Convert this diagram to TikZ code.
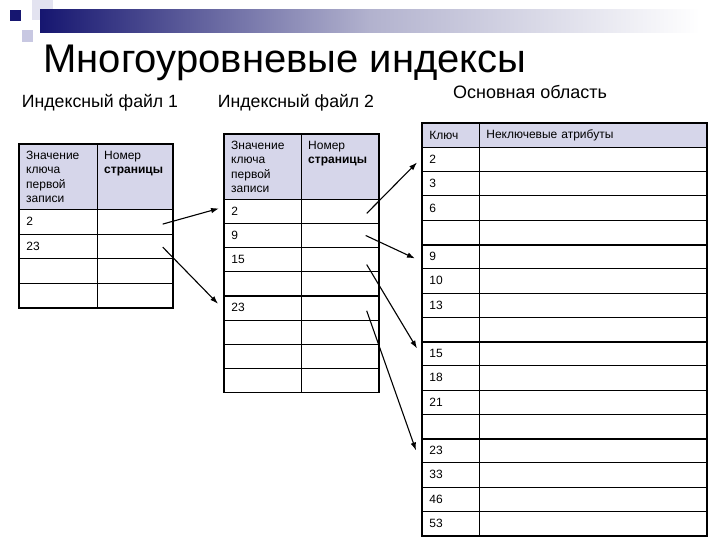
\documentclass[tikz,border=0pt]{standalone}
\usepackage{fontspec}
\setmainfont{Liberation Sans}
\usepackage{tikz}
\usetikzlibrary{arrows.meta}
\definecolor{headfill}{RGB}{214,214,234}
\definecolor{barblue}{RGB}{22,22,112}
\definecolor{barmid}{RGB}{178,178,206}
\definecolor{sqlight}{RGB}{200,200,226}

\begin{document}
\begin{tikzpicture}[x=1pt,y=-1pt,
  cell/.style={draw,line width=0.7pt,anchor=north west,inner xsep=7pt,inner ysep=0pt,font=\fontsize{12}{14.3}\selectfont,align=left},
  head/.style={cell,fill=headfill},
  htext/.style={anchor=north west,inner xsep=7pt,inner ysep=7pt,font=\fontsize{12}{14.3}\selectfont,align=left},
  frame/.style={line width=1.6pt},
  ptr/.style={-{Latex[length=8pt,width=5.5pt]},line width=1.1pt}]
\useasboundingbox (0,0) rectangle (720,540);
% slide decoration
\fill[sqlight!50] (32,0) rectangle (53,20);
\shade[left color=barblue,right color=white,middle color=barmid] (40,10) rectangle (700,33);
\fill[sqlight] (22,30) rectangle (33,42);
\fill[barblue] (10,10) rectangle (21,21);
% titles
\node[font=\fontsize{40}{44}\selectfont,anchor=base] (title) at (285,73) {Многоуровневые индексы};
\node[font=\fontsize{17.7}{20}\selectfont] (f1) at (100,103) {Индексный файл 1};
\node[font=\fontsize{17.7}{20}\selectfont] (f2) at (296,103) {Индексный файл 2};
\node[font=\fontsize{18}{20}\selectfont] (area) at (530,92) {Основная область};
% index file 1
\node[head,text width=64pt,minimum height=65pt] (h1a) at (19,144) {};
\node[head,text width=61pt,minimum height=65pt] (h1b) at (97,144) {};
\node[htext,text width=64pt] (t1a) at (h1a.north west) {Значение\\ключа\\первой\\записи};
\node[htext,text width=61pt] (t1b) at (h1b.north west) {Номер\\\textbf{страницы}};
\foreach \i/\k in {1/2,2/23,3/{},4/{}} {
  \node[cell,text width=64pt,minimum height=24.5pt] (a\i) at (19,{209+24.5*(\i-1)}) {\k};
  \node[cell,text width=61pt,minimum height=24.5pt] (p\i) at (97,{209+24.5*(\i-1)}) {};
}
\draw[frame] (h1a.north west) rectangle (p4.south east);
\draw[frame] (h1a.south west) -- (h1b.south east);
% index file 2
\node[head,text width=63pt,minimum height=65pt] (h2a) at (224,134) {};
\node[head,text width=63pt,minimum height=65pt] (h2b) at (301,134) {};
\node[htext,text width=63pt] (t2a) at (h2a.north west) {Значение\\ключа\\первой\\записи};
\node[htext,text width=63pt] (t2b) at (h2b.north west) {Номер\\\textbf{страницы}};
\foreach \i/\k in {1/2,2/9,3/15,4/{},5/23,6/{},7/{},8/{}} {
  \node[cell,text width=63pt,minimum height=24.1pt] (b\i) at (224,{199+24.1*(\i-1)}) {\k};
  \node[cell,text width=63pt,minimum height=24.1pt] (q\i) at (301,{199+24.1*(\i-1)}) {};
}
\draw[frame] (h2a.north west) rectangle (q8.south east);
\draw[frame] (h2a.south west) -- (h2b.south east);
\draw[frame] (b4.south west) -- (q4.south east);
% main area
\node[head,text width=43pt,minimum height=24pt] (hm) at (422,123) {Ключ};
\node[head,text width=213pt,minimum height=24pt] (hn) at (479,123) {Неключевые атрибуты};
\foreach \i/\k in {1/2,2/3,3/6,4/{},5/9,6/10,7/13,8/{},9/15,10/18,11/21,12/{},13/23,14/33,15/46,16/53} {
  \node[cell,text width=43pt,minimum height=24.25pt] (m\i) at (422,{147+24.25*(\i-1)}) {\k};
  \node[cell,text width=213pt,minimum height=24.25pt] (n\i) at (479,{147+24.25*(\i-1)}) {};
}
\draw[frame] (hm.north west) rectangle (n16.south east);
\draw[frame] (hm.south west) -- (hn.south east);
\foreach \i in {4,8,12}
  \draw[frame] (m\i.south west) -- (n\i.south east);
% pointers
\draw[ptr] ([xshift=-10pt,yshift=-2.5pt]p1.east) -- ([xshift=-5pt,yshift=3pt]b1.west);
\draw[ptr] ([xshift=-10pt,yshift=-1pt]p2.east) -- ([xshift=-6pt,yshift=4pt]b5.west);
\draw[ptr] ([xshift=-12pt,yshift=-2pt]q1.east) -- ([xshift=-5pt,yshift=-3pt]m1.west);
\draw[ptr] ([xshift=-13pt]q2.east) -- ([xshift=-7pt,yshift=-2pt]m5.west);
\draw[ptr] ([xshift=-12pt,yshift=-5pt]q3.east) -- ([xshift=-5pt,yshift=5pt]m9.west);
\draw[ptr] ([xshift=-12pt,yshift=-3pt]q5.east) -- ([xshift=-6pt]m13.west);
\end{tikzpicture}
\end{document}
